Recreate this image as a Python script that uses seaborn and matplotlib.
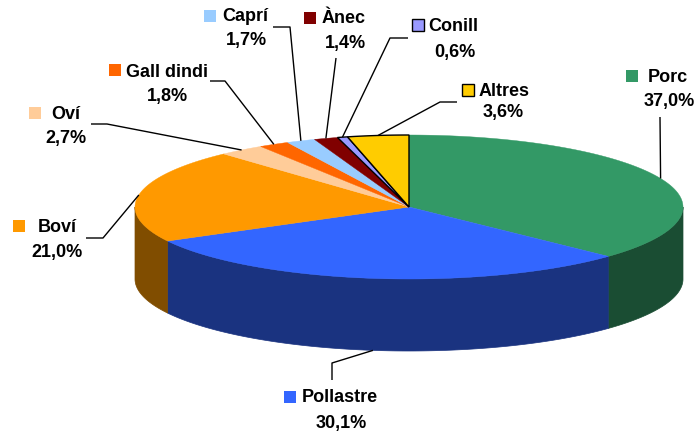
import numpy as np
import matplotlib
matplotlib.use("Agg")
import matplotlib.pyplot as plt
from matplotlib.patches import Polygon, Rectangle
import matplotlib.colors as mcolors
import seaborn as sns

# ---- data ----
categories = ["Porc", "Pollastre", "Boví", "Oví", "Gall dindi", "Caprí", "Ànec", "Conill", "Altres"]
shares = [37.0, 30.1, 21.0, 2.7, 1.8, 1.7, 1.4, 0.6, 3.6]
top_colors = ["#339966", "#3366FF", "#FF9900", "#FFCC99", "#FF6600", "#99CCFF", "#800000", "#9999FF", "#FFCC00"]
outlined = [False, False, False, False, False, False, False, True, True]

# ---- label layout (pixel positions) ----
name_pos = [(668, 82), (340, 402), (57, 232), (66, 119), (167, 77), (245, 21), (344, 23), (453, 31), (504, 96)]
pct_pos = [(669, 106), (341, 428), (57, 257), (66, 143), (167, 101), (246, 45), (345, 48), (455, 57), (503, 117)]
square_pos = [(632, 76), (290, 397), (19, 226), (35, 113), (115, 70), (210, 16), (310, 18), (418, 25), (468, 90)]
leader_start = [[(660, 117)], [(332, 380), (332, 363)], [(86, 238), (103, 238)], [(91, 124), (107, 124)],
                [(210, 81), (225, 81)], [(273, 27), (290, 27)], [(336, 58)], [(408, 38), (390, 38)],
                [(457, 102), (440, 102)]]

sns.set_theme(style="white")
plt.rcParams["font.family"] = ["Liberation Sans", "DejaVu Sans"]

W, H = 696, 432
fig = plt.figure(figsize=(W / 100, H / 100), dpi=100)
ax = fig.add_axes([0, 0, 1, 1])
ax.set_xlim(0, W)
ax.set_ylim(H, 0)
ax.axis("off")

cx, cy, rx, ry, depth = 409, 207, 274, 72, 72

vals = np.array(shares, dtype=float)
frac = vals / vals.sum()
cum = np.concatenate([[0], np.cumsum(frac)])
start = 90 - 360 * cum[:-1]
end = 90 - 360 * cum[1:]


def pt(theta_deg, dz=0.0):
    t = np.radians(theta_deg)
    return cx + rx * np.cos(t), cy - ry * np.sin(t) + dz


def darker(c, f=0.5):
    r, g, b = mcolors.to_rgb(c)
    return (r * f, g * f, b * f)


# side walls (front half only)
for i in range(len(vals)):
    a = max(end[i], -180)
    b = min(start[i], 0)
    if b <= a:
        continue
    th = np.linspace(a, b, 200)
    xs, ys = pt(th)
    top = np.column_stack([xs, ys])
    bot = np.column_stack([xs, ys + depth])[::-1]
    poly = Polygon(np.vstack([top, bot]), closed=True, facecolor=darker(top_colors[i]),
                   edgecolor=darker(top_colors[i]), lw=0.5, zorder=1)
    ax.add_patch(poly)

# top faces
for i in range(len(vals)):
    th = np.linspace(start[i], end[i], max(int(abs(start[i] - end[i]) * 2), 4))
    xs, ys = pt(th)
    verts = np.vstack([[cx, cy], np.column_stack([xs, ys])])
    ec = "black" if outlined[i] else top_colors[i]
    lw = 1.0 if outlined[i] else 0.3
    poly = Polygon(verts, closed=True, facecolor=top_colors[i], edgecolor=ec, lw=lw,
                   zorder=3 if outlined[i] else 2)
    ax.add_patch(poly)

# labels and leaders
for i, cat in enumerate(categories):
    mid = (start[i] + end[i]) / 2
    mx, my = pt(mid)
    if np.sin(np.radians(mid)) < -0.5:
        my += depth
    pts = leader_start[i] + [(mx, my)]
    lx = [p[0] for p in pts]
    ly = [p[1] for p in pts]
    ax.plot(lx, ly, color="black", lw=1.0, zorder=4, solid_capstyle="butt")

    sx, sy = square_pos[i]
    ax.add_patch(Rectangle((sx - 6, sy - 6), 12, 12, facecolor=top_colors[i],
                           edgecolor="black" if outlined[i] else top_colors[i],
                           lw=1.0 if outlined[i] else 0, zorder=5))
    nx, ny = name_pos[i]
    ax.text(nx, ny, cat, ha="center", va="baseline", fontsize=13, fontweight="bold", color="black", zorder=5)
    px, py = pct_pos[i]
    pct = f"{shares[i]:.1f}".replace(".", ",") + "%"
    ax.text(px, py, pct, ha="center", va="baseline", fontsize=13, fontweight="bold", color="black", zorder=5)

fig.savefig("out.png", dpi=100, facecolor="white")
